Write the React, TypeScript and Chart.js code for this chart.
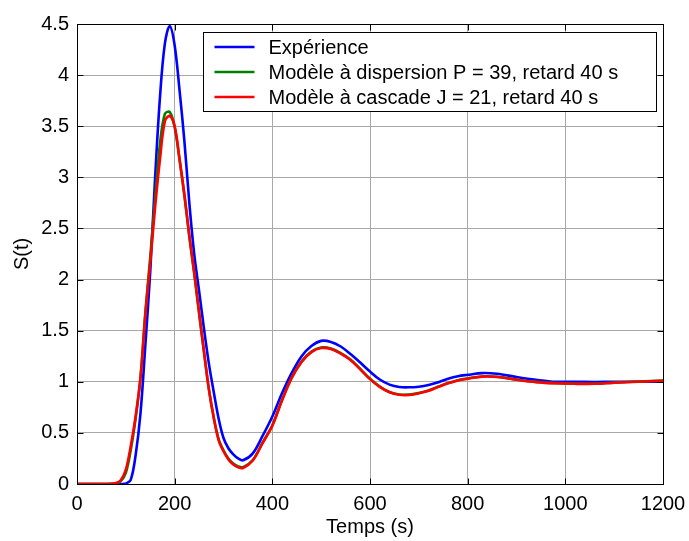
import React, { useEffect, useRef } from "react";
import { Chart, registerables } from "chart.js";

Chart.register(...registerables);

// Temps (s)
const time = [
  0, 60, 80, 90, 100, 110, 120, 130, 140, 150, 160, 170, 180, 190, 200, 210, 220, 230, 240, 250,
  260, 270, 280, 290, 300, 310, 320, 330, 340, 360, 380, 400, 420, 440, 460, 480, 500, 520, 540, 560,
  580, 600, 620, 640, 660, 680, 700, 720, 740, 760, 780, 800, 830, 860, 900, 940, 980, 1020, 1060, 1100,
  1150, 1200,
];

// Expérience
const experience = [
  0, 0, 0, 0, 0.005, 0.04, 0.28, 0.69, 1.36, 2.08, 3.0, 3.79, 4.31, 4.48, 4.29, 3.85, 3.35, 2.75, 2.25, 1.89,
  1.52, 1.18, 0.9, 0.64, 0.45, 0.35, 0.29, 0.25, 0.232, 0.3, 0.47, 0.66, 0.89, 1.09, 1.25, 1.35, 1.4, 1.39, 1.345, 1.272,
  1.188, 1.1, 1.022, 0.972, 0.949, 0.946, 0.952, 0.968, 0.995, 1.03, 1.055, 1.068, 1.085, 1.078, 1.047, 1.02, 1.0, 1.0, 0.998, 1.0,
  1.0, 1.0,
];

// Modèle à dispersion
const dispersion = [
  0, 0, 0.005, 0.03, 0.11, 0.33, 0.64, 1.04, 1.68, 2.22, 2.8, 3.33, 3.62, 3.64, 3.49, 3.17, 2.82, 2.42, 2.06, 1.67,
  1.29, 0.93, 0.65, 0.44, 0.33, 0.25, 0.2, 0.172, 0.165, 0.235, 0.405, 0.575, 0.825, 1.045, 1.2, 1.295, 1.335, 1.325, 1.28, 1.218,
  1.126, 1.029, 0.953, 0.9, 0.876, 0.874, 0.89, 0.915, 0.953, 0.988, 1.016, 1.033, 1.052, 1.049, 1.022, 0.999, 0.987, 0.982, 0.982, 0.992,
  1.003, 1.012,
];

// Modèle à cascade
const cascade = [
  0, 0, 0.01, 0.04, 0.14, 0.37, 0.66, 1.04, 1.66, 2.17, 2.71, 3.18, 3.55, 3.6, 3.5, 3.18, 2.83, 2.43, 2.07, 1.68,
  1.3, 0.93, 0.65, 0.43, 0.32, 0.24, 0.19, 0.163, 0.157, 0.23, 0.4, 0.57, 0.82, 1.04, 1.195, 1.29, 1.33, 1.32, 1.275, 1.213,
  1.122, 1.026, 0.95, 0.897, 0.873, 0.871, 0.887, 0.912, 0.95, 0.985, 1.013, 1.03, 1.05, 1.047, 1.02, 0.997, 0.985, 0.98, 0.98, 0.99,
  1.0, 1.01,
];

const seriesLabels = [
  "Expérience",
  "Modèle à dispersion P = 39, retard 40 s",
  "Modèle à cascade J = 21, retard 40 s",
];
const seriesColors = ["#0000ff", "#008000", "#ff0000"];
const xLabel = "Temps (s)";
const yLabel = "S(t)";

const FONT = "'Liberation Sans', Arial, sans-serif";

const framePlugin = {
  id: "matlabFrame",
  afterDatasetsDraw(chart: any) {
    const { ctx, chartArea: a, scales } = chart;
    const xs = scales.x;
    const ys = scales.y;
    ctx.save();
    ctx.strokeStyle = "#000";
    ctx.lineWidth = 1;
    const L = Math.round(a.left) + 0.5;
    const R = Math.round(a.right) + 0.5;
    const T = Math.round(a.top) + 0.5;
    const B = Math.round(a.bottom) + 0.5;
    ctx.beginPath();
    const tl = 6;
    xs.ticks.forEach((t: any) => {
      const px = Math.round(xs.getPixelForValue(t.value)) + 0.5;
      ctx.moveTo(px, B);
      ctx.lineTo(px, B - tl);
      ctx.moveTo(px, T);
      ctx.lineTo(px, T + tl);
    });
    ys.ticks.forEach((t: any) => {
      const py = Math.round(ys.getPixelForValue(t.value)) + 0.5;
      ctx.moveTo(L, py);
      ctx.lineTo(L + tl, py);
      ctx.moveTo(R, py);
      ctx.lineTo(R - tl, py);
    });
    ctx.stroke();
    ctx.strokeRect(L, T, R - L, B - T);

    // legend box
    const bw = 453;
    const bh = 79;
    const bx = Math.round(R - 461) + 0.5;
    const by = Math.round(T + 7) + 0.5;
    ctx.fillStyle = "#fff";
    ctx.fillRect(bx, by, bw, bh);
    ctx.strokeRect(bx, by, bw, bh);
    ctx.font = `20px ${FONT}`;
    ctx.textBaseline = "middle";
    ctx.textAlign = "left";
    chart.data.datasets.forEach((ds: any, i: number) => {
      const ry = by + 14.5 + i * 25;
      ctx.strokeStyle = ds.borderColor;
      ctx.lineWidth = 2.5;
      ctx.beginPath();
      ctx.moveTo(bx + 11, ry);
      ctx.lineTo(bx + 51, ry);
      ctx.stroke();
      ctx.fillStyle = "#000";
      ctx.fillText(ds.label, bx + 65, ry + 1);
    });
    ctx.restore();
  },
};

export default function App() {
  const ref = useRef<HTMLCanvasElement>(null);
  useEffect(() => {
    if (!ref.current) return;
    const series = [experience, dispersion, cascade];
    const chart = new Chart(ref.current, {
      type: "line",
      data: {
        datasets: series.map((vals, i) => ({
          label: seriesLabels[i],
          data: time.map((t, j) => ({ x: t, y: vals[j] })),
          borderColor: seriesColors[i],
          backgroundColor: seriesColors[i],
          borderWidth: 2.6,
          pointRadius: 0,
          tension: 0.35,
          fill: false,
          order: 2 - i,
        })),
      },
      options: {
        animation: false,
        responsive: false,
        devicePixelRatio: 1,
        layout: { padding: { top: 24, right: 26, left: 0, bottom: 0 } },
        plugins: {
          legend: { display: false },
          tooltip: { enabled: false },
        },
        scales: {
          x: {
            type: "linear",
            min: 0,
            max: 1200,
            afterFit: (s: any) => {
              s.height = 57;
              s.paddingLeft = 0;
              s.paddingRight = 0;
            },
            ticks: {
              stepSize: 200,
              color: "#000",
              padding: 8,
              maxRotation: 0,
              font: { family: FONT, size: 20 },
              callback: (v: any) => String(Number(v)),
            },
            grid: { color: "#a8a8a8", lineWidth: 1, drawTicks: false },
            border: { display: false },
            title: {
              display: true,
              text: xLabel,
              color: "#000",
              font: { family: FONT, size: 20 },
              padding: { top: 0, bottom: 2 },
            },
          },
          y: {
            type: "linear",
            min: 0,
            max: 4.5,
            afterFit: (s: any) => {
              s.width = 77;
              s.paddingTop = 0;
              s.paddingBottom = 0;
            },
            ticks: {
              stepSize: 0.5,
              color: "#000",
              padding: 8,
              font: { family: FONT, size: 20 },
              callback: (v: any) => String(Number(v)),
            },
            grid: { color: "#a8a8a8", lineWidth: 1, drawTicks: false },
            border: { display: false },
            title: {
              display: true,
              text: yLabel,
              color: "#000",
              font: { family: FONT, size: 20 },
              padding: { top: 10, bottom: 0 },
            },
          },
        },
      },
      plugins: [framePlugin],
    });
    return () => chart.destroy();
  }, []);
  return (
    <div style={{ position: "absolute", left: 0, top: 0, width: 689, height: 541, background: "#fff" }}>
      <canvas ref={ref} width={689} height={541} style={{ display: "block" }} />
    </div>
  );
}
